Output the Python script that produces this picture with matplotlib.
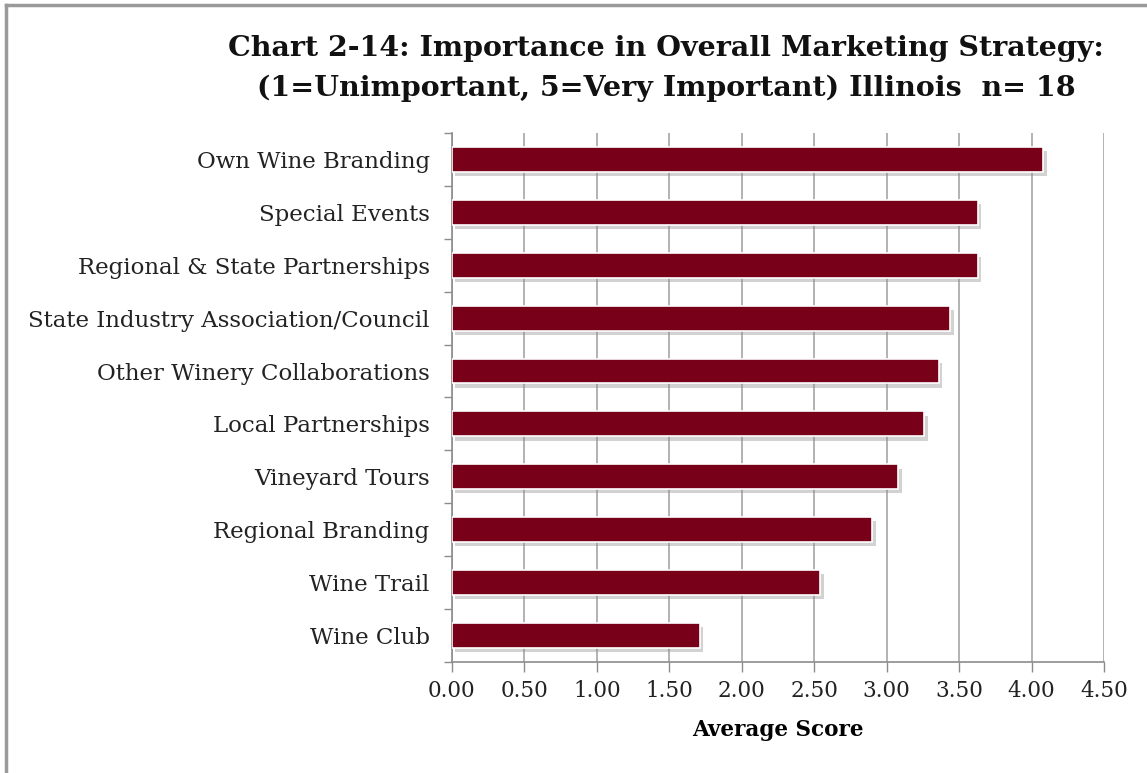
import matplotlib.pyplot as plt
import matplotlib.patheffects as pe
from matplotlib.lines import Line2D
import numpy as np

# survey items, top to bottom
categories = [
    "Own Wine Branding",
    "Special Events",
    "Regional & State Partnerships",
    "State Industry Association/Council",
    "Other Winery Collaborations",
    "Local Partnerships",
    "Vineyard Tours",
    "Regional Branding",
    "Wine Trail",
    "Wine Club",
]
scores = [4.08, 3.63, 3.63, 3.44, 3.36, 3.26, 3.08, 2.90, 2.54, 1.71]
xticks = [0.0, 0.5, 1.0, 1.5, 2.0, 2.5, 3.0, 3.5, 4.0, 4.5]

plt.rcParams['font.family'] = ['DejaVu Serif']

fig = plt.figure(figsize=(11.47, 7.73), dpi=100)
ax = fig.add_axes([0.394, 0.1436, 0.5686, 0.6844])

n = len(categories)
ypos = np.arange(n)[::-1]

shadow = [pe.SimplePatchShadow(offset=(2.5, -3), shadow_rgbFace='#909090', alpha=0.4),
          pe.Normal()]
bars = ax.barh(ypos, scores, height=0.47, color='#780018', edgecolor='white',
               linewidth=1.2, zorder=3)
for b in bars:
    b.set_path_effects(shadow)

ax.set_xlim(0, 4.5)
ax.set_ylim(-0.5, n - 0.5)
ax.set_xticks(xticks)
ax.set_xticklabels([f"{t:.2f}" for t in xticks], fontsize=15.5, color='#222222')
ax.set_yticks(ypos)
ax.set_yticklabels(categories, fontsize=16.5, color='#222222')
ax.set_yticks(np.arange(-0.5, n, 1.0), minor=True)

ax.tick_params(axis='y', which='major', length=0, pad=16)
ax.tick_params(axis='y', which='minor', length=6, color='#8c8c8c', width=1)
ax.tick_params(axis='x', length=7, color='#8c8c8c', width=1, pad=6)

ax.grid(axis='x', color='#a6a6a6', linewidth=1.2, zorder=0)
ax.set_axisbelow(True)
for side in ['top', 'right']:
    ax.spines[side].set_visible(False)
for side in ['left', 'bottom']:
    ax.spines[side].set_color('#8c8c8c')
    ax.spines[side].set_linewidth(1.2)

ax.set_xlabel("Average Score", fontsize=15.5, fontweight='bold', labelpad=12)

fig.text(0.581, 0.911, "Chart 2-14: Importance in Overall Marketing Strategy:\n"
         "(1=Unimportant, 5=Very Important) Illinois  n= 18",
         ha='center', va='center', fontsize=20.5, fontweight='bold',
         linespacing=1.6, color='#111111')

# outer chart frame (left and top edges)
fig.add_artist(Line2D([0.0055, 0.0055], [0, 0.993], transform=fig.transFigure,
                      color='#9a9a9a', linewidth=2.5))
fig.add_artist(Line2D([0.0055, 1.0], [0.993, 0.993], transform=fig.transFigure,
                      color='#9a9a9a', linewidth=2.5))

fig.savefig("out.png", dpi=100, facecolor='white')
